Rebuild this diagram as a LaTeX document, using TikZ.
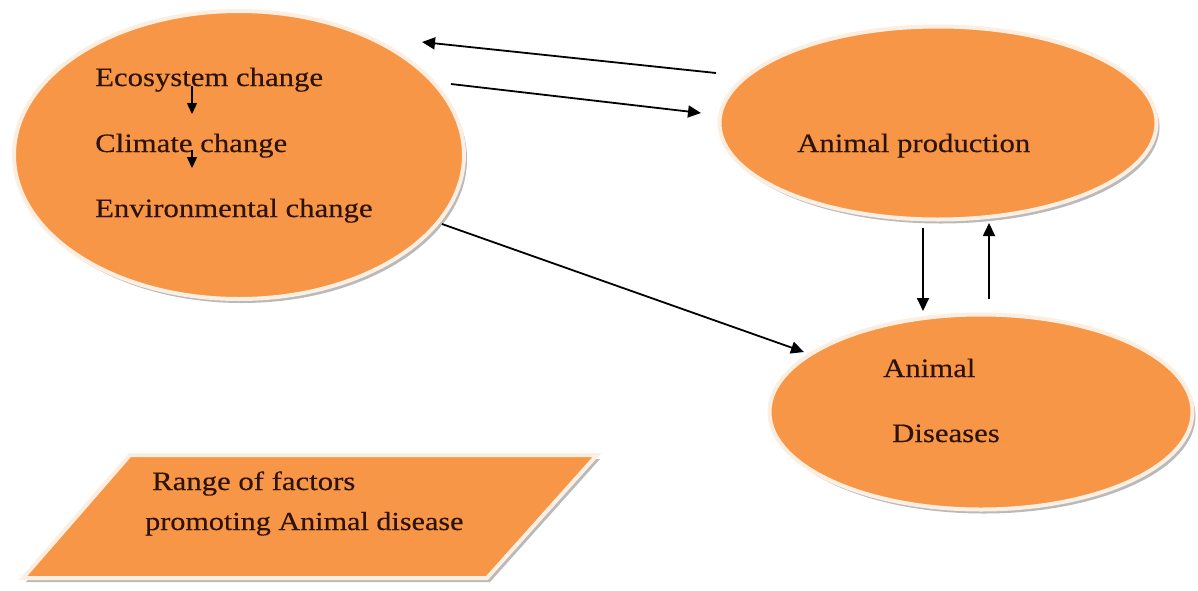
\documentclass[tikz,border=0pt]{standalone}
\usepackage{fontspec}
\setmainfont{Liberation Serif}[FakeStretch=1.16,FakeBold=0.35]
\usetikzlibrary{shapes.geometric,arrows.meta,shadows}
\definecolor{ofill}{RGB}{247,150,70}
\definecolor{oborder}{RGB}{253,238,226}
\definecolor{txt}{RGB}{45,18,6}
\begin{document}
\begin{tikzpicture}[x=1pt,y=-1pt,
  shade/.style={drop shadow={shadow xshift=3pt, shadow yshift=-4pt, fill=black!45, opacity=0.6}},
  blob/.style={ellipse, fill=ofill, draw=oborder, line width=4pt, inner sep=0pt, shade},
  lbl/.style={anchor=base west, inner sep=0pt, text=txt, font=\fontsize{26.5}{30}\selectfont},
  conn/.style={-{Triangle[length=13pt,width=12pt]}, line width=1.8pt, black},
  small/.style={-{Triangle[length=11pt,width=10pt]}, line width=1.4pt, black}]
\useasboundingbox (0,0) rectangle (1198,590);
\fill[white] (0,0) rectangle (1198,590);

% shapes
\node[blob, minimum width=450pt, minimum height=288pt] (eco) at (239,155) {};
\node[blob, minimum width=437pt, minimum height=193pt] (prod) at (938,123) {};
\node[blob, minimum width=423pt, minimum height=195pt] (dis) at (981,412) {};
\path[fill=ofill, draw=oborder, line width=4pt, shade] (130,455) -- (597,455) -- (487,578) -- (23,578) -- cycle;

% texts
\node[lbl] (t1) at (95,86) {Ecosystem change};
\node[lbl] (t2) at (95,152) {Climate change};
\node[lbl] (t3) at (95,217) {Environmental change};
\node[lbl] (tp) at (797,152) {Animal production};
\node[lbl] (td1) at (883,377) {Animal};
\node[lbl] (td2) at (892,442) {Diseases};
\node[lbl] (tr1) at (152,490) {Range of factors};
\node[lbl, font=\fontsize{26}{30}\selectfont] (tr2) at (145,530) {promoting Animal disease};

% connector end points
\coordinate (a1s) at (716,73);  \coordinate (a1e) at (422,42);
\coordinate (a2s) at (451,84);  \coordinate (a2e) at (701,113);
\coordinate (a3s) at (442,224); \coordinate (a3e) at (804,352);
\coordinate (a4s) at (923,228); \coordinate (a4e) at (923,311);
\coordinate (a5s) at (989,299); \coordinate (a5e) at (989,223);
\coordinate (s1s) at (192,86);  \coordinate (s1e) at (192,114);
\coordinate (s2s) at (192,150); \coordinate (s2e) at (192,168);

\draw[conn] (a1s) -- (a1e);
\draw[conn] (a2s) -- (a2e);
\draw[conn] (a3s) -- (a3e);
\draw[conn] (a4s) -- (a4e);
\draw[conn] (a5s) -- (a5e);
\draw[small] (s1s) -- (s1e);
\draw[small] (s2s) -- (s2e);
\end{tikzpicture}
\end{document}
